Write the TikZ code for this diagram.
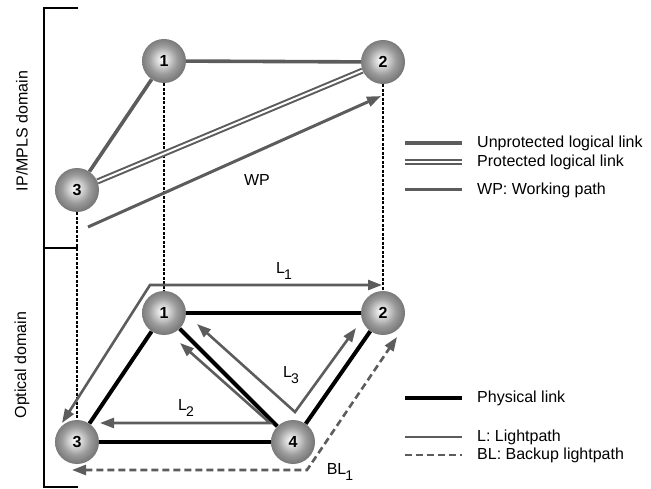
\documentclass[tikz,border=0pt]{standalone}
\usepackage{fontspec}
\setmainfont{Liberation Sans}
\usetikzlibrary{arrows.meta,backgrounds}
\definecolor{linkgray}{RGB}{92,92,92}
\pgfdeclareradialshading{sphere}{\pgfpoint{-2bp}{2bp}}{color(0bp)=(white); color(5bp)=(gray!22); color(16bp)=(gray!78); color(28bp)=(gray!85!black); color(35bp)=(gray!60!black); color(50bp)=(gray!60!black)}
\newcommand{\sublab}[2]{#1\kern-1pt\raisebox{-6pt}{\fontsize{14}{14}\selectfont #2}}
\begin{document}
\begin{tikzpicture}[x=1pt,y=-1pt,
  router/.style={circle, minimum size=44pt, inner sep=0pt, shading=sphere,
    font=\fontsize{16}{16}\selectfont\bfseries},
  label/.style={font=\fontsize{16}{19}\selectfont, inner sep=0pt},
  legtext/.style={font=\fontsize{16}{19}\selectfont, anchor=west, inner sep=0pt},
  tip/.style={-{Triangle[length=14pt,width=10pt]}},
  tips/.style={{Triangle[length=14pt,width=10pt]}-{Triangle[length=14pt,width=10pt]}},
  unprot/.style={draw=linkgray, line width=3.6pt},
  prot/.style={draw=linkgray, line width=2pt, double=white, double distance=2pt},
  workpath/.style={draw=linkgray, line width=3pt},
  phys/.style={draw=black, line width=4pt},
  light/.style={draw=linkgray, line width=2.6pt, line join=miter},
  backup/.style={draw=linkgray, line width=2.6pt, dash pattern=on 7pt off 4pt, line join=miter},
  drop/.style={draw=black, line width=1.2pt, dash pattern=on 3pt off 1.5pt},
  bracket/.style={draw=black, line width=1.6pt}]

\useasboundingbox (0,0) rectangle (651,489);

% routers of the IP/MPLS layer
\node[router] (t1) at (164,61) {1};
\node[router] (t2) at (383,62) {2};
\node[router] (t3) at (77,190) {3};

% nodes of the optical layer
\node[router] (b1) at (164,313) {1};
\node[router] (b2) at (383,313) {2};
\node[router] (b3) at (77,442) {3};
\node[router] (b4) at (293,442) {4};

% domain bracket
\draw[bracket] (78,8) -- (44,8) -- (44,487) -- (78,487);
\draw[bracket] (44,248) -- (78,248);
\node[label, rotate=90] (ipdom) at (22,131) {IP/MPLS domain};
\node[label, rotate=90] (optdom) at (22,365) {Optical domain};

% free ends of the paths
\coordinate (wpS) at (88,227);
\coordinate (wpE) at (381,96);
\coordinate (l1A) at (62,423);
\coordinate (l1C) at (150,285);
\coordinate (l1B) at (382,285);
\coordinate (l2A) at (180,343);
\coordinate (l2C) at (270,423);
\coordinate (l2B) at (100,423);
\coordinate (l3A) at (197,324);
\coordinate (l3C) at (295,412);
\coordinate (l3B) at (356,328);
\coordinate (bl1A) at (72,470);
\coordinate (bl1C) at (307,470);
\coordinate (bl1B) at (397,337);

\begin{pgfonlayer}{background}
  % projections between the layers
  \draw[drop] (t1.center) -- (b1.center);
  \draw[drop] (t2.center) -- (b2.center);
  \draw[drop] (t3.center) -- (b3.center);

  % logical links
  \draw[unprot] (t1) -- (t2);
  \draw[unprot] (t1) -- (t3);
  \draw[prot] (t3) -- (t2);
  \draw[workpath, tip] (wpS) -- (wpE);

  % physical links
  \draw[phys] (b1) -- (b2);
  \draw[phys] (b1) -- (b3);
  \draw[phys] (b3) -- (b4);
  \draw[phys] (b1) -- (b4);
  \draw[phys] (b4) -- (b2);

  % lightpaths
  \draw[light, tips] (l1A) -- (l1C) -- (l1B);
  \draw[light, tips] (l2A) -- (l2C) -- (l2B);
  \draw[light, tips] (l3A) -- (l3C) -- (l3B);
  \draw[backup, tips] (bl1A) -- (bl1C) -- (bl1B);
\end{pgfonlayer}

% path labels
\node[label] (wplab) at (257,180) {WP};
\node[label] (l1lab) at (284,271) {\sublab{L}{1}};
\node[label] (l2lab) at (186,408) {\sublab{L}{2}};
\node[label] (l3lab) at (291,375) {\sublab{L}{3}};
\node[label] (bl1lab) at (340,472) {\sublab{BL}{1}};

% legend of the IP/MPLS layer
\coordinate (ka1) at (405,143); \coordinate (kb1) at (462,143);
\coordinate (ka2) at (405,162); \coordinate (kb2) at (462,162);
\coordinate (ka3) at (405,190); \coordinate (kb3) at (462,190);
\draw[unprot] (ka1) -- (kb1);
\draw[prot] (ka2) -- (kb2);
\draw[workpath] (ka3) -- (kb3);
\node[legtext] (kt1) at (477,143) {Unprotected logical link};
\node[legtext] (kt2) at (477,162) {Protected logical link};
\node[legtext] (kt3) at (477,190) {WP: Working path};

% legend of the optical layer
\coordinate (ka4) at (405,398); \coordinate (kb4) at (462,398);
\coordinate (ka5) at (405,437); \coordinate (kb5) at (462,437);
\coordinate (ka6) at (405,455); \coordinate (kb6) at (462,455);
\draw[phys] (ka4) -- (kb4);
\draw[light] (ka5) -- (kb5);
\draw[backup] (ka6) -- (kb6);
\node[legtext] (kt4) at (477,398) {Physical link};
\node[legtext] (kt5) at (477,437) {L: Lightpath};
\node[legtext] (kt6) at (477,455) {BL: Backup lightpath};
\end{tikzpicture}
\end{document}
